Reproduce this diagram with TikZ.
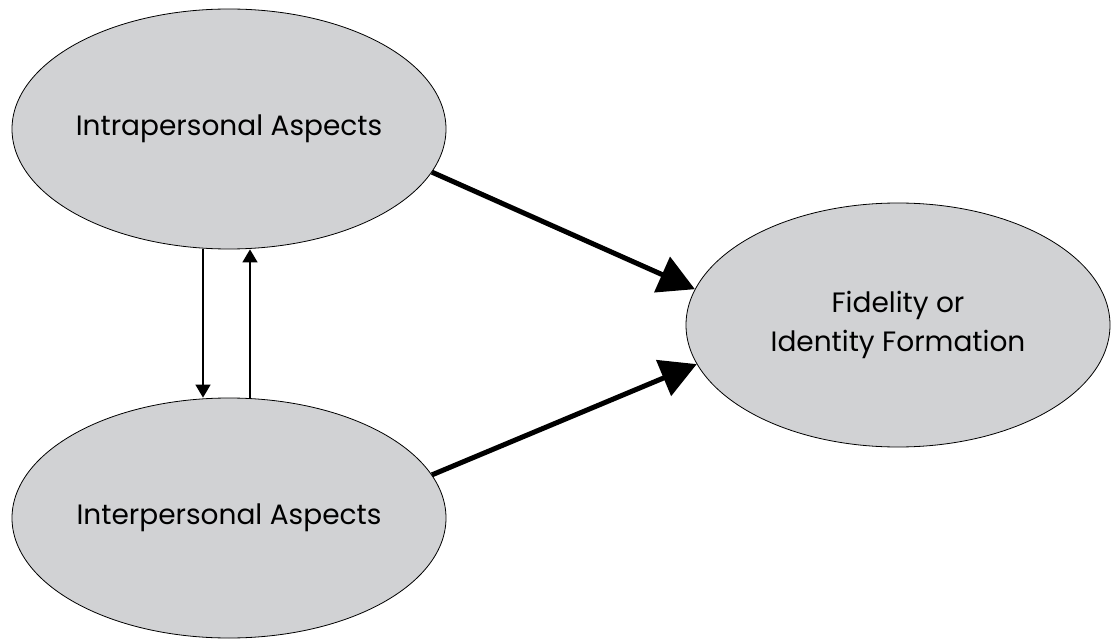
\documentclass[tikz,border=0pt]{standalone}
\usepackage{fontspec}
\setmainfont{Poppins}
\usetikzlibrary{arrows.meta,shapes.geometric}
\definecolor{aspectgray}{HTML}{D1D2D4}

\begin{document}
\begin{tikzpicture}[x=1pt,y=-1pt,
  aspect/.style={ellipse, draw=black, line width=0.8pt, fill=aspectgray, inner sep=0pt,
    minimum width=434pt, minimum height=240pt, font=\fontsize{28}{39}\selectfont, align=center},
  bigarrow/.style={line width=5pt, -{Triangle[length=36pt,width=38pt]}},
  smallarrow/.style={line width=1.6pt, -{Triangle[length=13pt,width=15pt]}}]
\useasboundingbox (0,0) rectangle (1111,639);
\node[aspect] (intra) at (229,129) {Intrapersonal Aspects};
\node[aspect] (inter) at (229,518) {Interpersonal Aspects};
\node[aspect, minimum width=424pt, minimum height=244pt] (fidelity) at (898,325) {Fidelity or\\Identity Formation};
\draw[smallarrow] ([xshift=-26pt]intra.south) -- ([xshift=-26pt]inter.north);
\draw[smallarrow] ([xshift=21pt]inter.north) -- ([xshift=21pt]intra.south);
\draw[bigarrow] (intra.-12) -- (fidelity.170);
\draw[bigarrow] (inter.12) -- (fidelity.191);
\end{tikzpicture}
\end{document}
